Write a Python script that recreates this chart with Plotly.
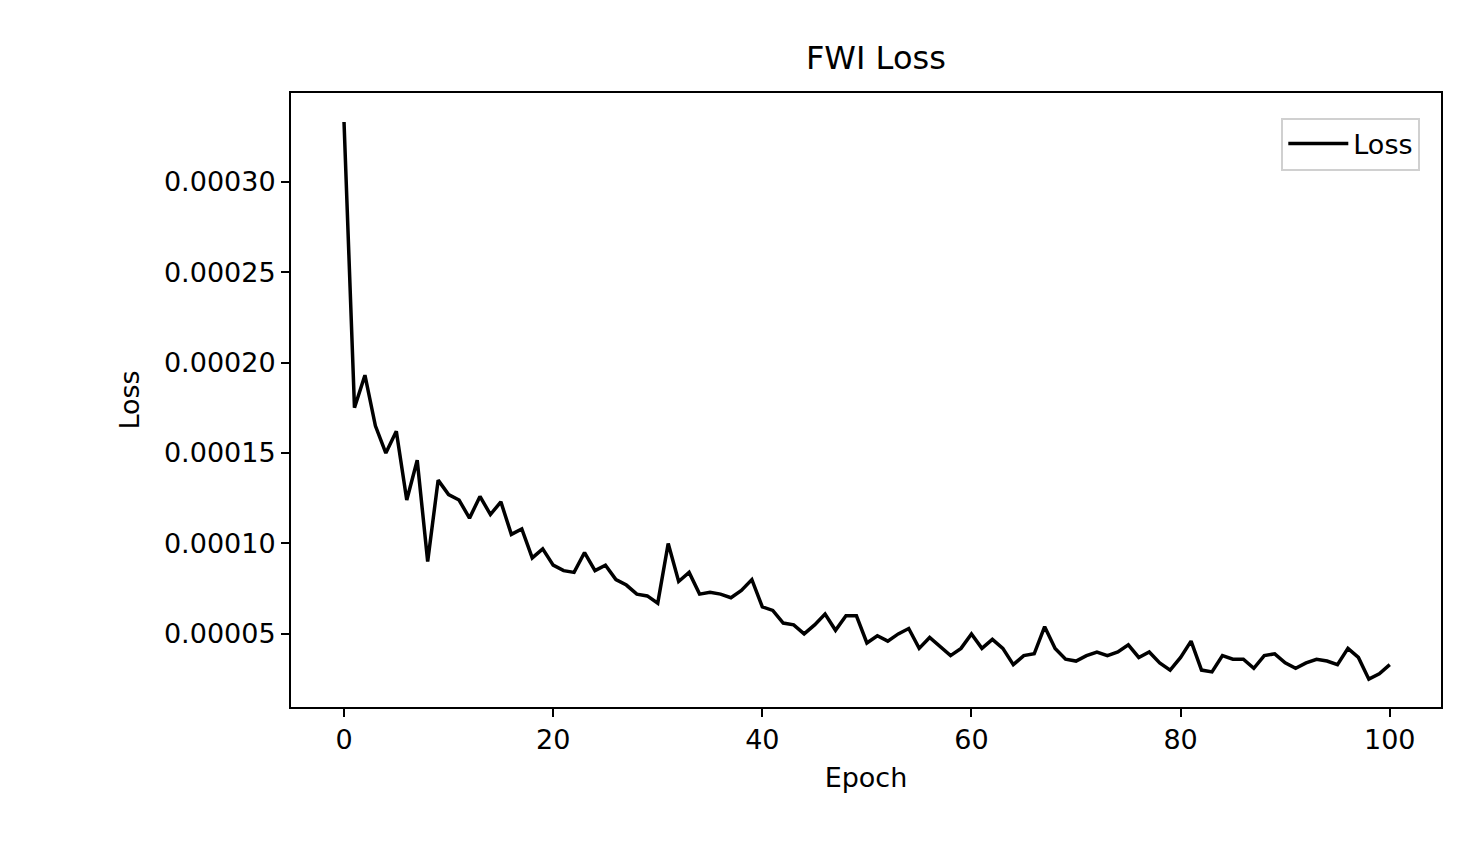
import plotly.graph_objects as go

epochs = list(range(101))
loss = [
    0.000333, 0.000175, 0.000193, 0.000165, 0.000150, 0.000162, 0.000124, 0.000146, 0.000090, 0.000135,
    0.000127, 0.000124, 0.000114, 0.000126, 0.000116, 0.000123, 0.000105, 0.000108, 0.000092, 0.000097,
    0.000088, 0.000085, 0.000084, 0.000095, 0.000085, 0.000088, 0.000080, 0.000077, 0.000072, 0.000071,
    0.000067, 0.000100, 0.000079, 0.000084, 0.000072, 0.000073, 0.000072, 0.000070, 0.000074, 0.000080,
    0.000065, 0.000063, 0.000056, 0.000055, 0.000050, 0.000055, 0.000061, 0.000052, 0.000060, 0.000060,
    0.000045, 0.000049, 0.000046, 0.000050, 0.000053, 0.000042, 0.000048, 0.000043, 0.000038, 0.000042,
    0.000050, 0.000042, 0.000047, 0.000042, 0.000033, 0.000038, 0.000039, 0.000054, 0.000042, 0.000036,
    0.000035, 0.000038, 0.000040, 0.000038, 0.000040, 0.000044, 0.000037, 0.000040, 0.000034, 0.000030,
    0.000037, 0.000046, 0.000030, 0.000029, 0.000038, 0.000036, 0.000036, 0.000031, 0.000038, 0.000039,
    0.000034, 0.000031, 0.000034, 0.000036, 0.000035, 0.000033, 0.000042, 0.000037, 0.000025, 0.000028,
    0.000033,
]
y_ticks = [0.00005, 0.00010, 0.00015, 0.00020, 0.00025, 0.00030]

fig = go.Figure(go.Scatter(x=epochs, y=loss, mode="lines", name="Loss",
                           line=dict(color="black", width=3.5)))

axis_style = dict(showline=True, linecolor="black", linewidth=2, mirror=True,
                  ticks="outside", ticklen=8, tickwidth=2, tickcolor="black",
                  showgrid=False, zeroline=False, tickfont=dict(size=27, color="black"))

fig.update_layout(
    width=1471, height=866,
    paper_bgcolor="white", plot_bgcolor="white",
    font=dict(family="DejaVu Sans", color="black", size=27),
    title=dict(text="FWI Loss", x=0.59, xanchor="center", y=0.955, font=dict(size=32)),
    margin=dict(l=283, r=38, t=85, b=167),
    xaxis=dict(title=dict(text="Epoch", standoff=14, font=dict(size=27)), range=[-5.07, 104.9],
               tickvals=[0, 20, 40, 60, 80, 100], **axis_style),
    yaxis=dict(title=dict(text="Loss", standoff=16, font=dict(size=27)), range=[0.0000096, 0.000349],
               tickvals=y_ticks, tickformat=".5f", **axis_style),
    legend=dict(x=0.982, y=0.96, xanchor="right", yanchor="top",
                bordercolor="#d0d0d0", borderwidth=2, font=dict(size=27),
                itemwidth=60),
    showlegend=True,
)

fig.write_html("out.html")
